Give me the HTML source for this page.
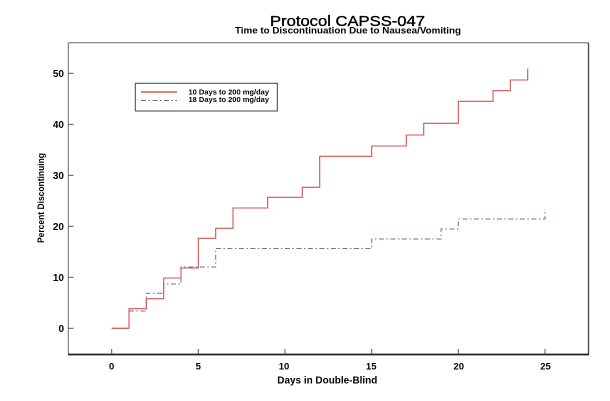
<!DOCTYPE html>
<html>
<head>
<meta charset="utf-8">
<style>
  html, body { margin: 0; padding: 0; background: #ffffff; }
  svg { display: block; }
  text { font-family: "Liberation Sans", Arial, sans-serif; fill: #000; }
</style>
</head>
<body>
<svg width="610" height="401" viewBox="0 0 610 401" xmlns="http://www.w3.org/2000/svg">
  <rect x="0" y="0" width="610" height="401" fill="#ffffff"/>

  <!-- Titles -->
  <text x="270" y="26" font-size="15" textLength="155" lengthAdjust="spacingAndGlyphs" stroke="#000" stroke-width="0.35">Protocol CAPSS-047</text>
  <text x="235" y="33.5" font-size="9.5" font-weight="bold" textLength="226" lengthAdjust="spacingAndGlyphs">Time to Discontinuation Due to Nausea/Vomiting</text>

  <!-- Frame -->
  <line x1="68.3" y1="42.7" x2="588.5" y2="42.7" stroke="#6a6a6a" stroke-width="1"/>
  <line x1="68.3" y1="42.7" x2="68.3" y2="354" stroke="#6a6a6a" stroke-width="1"/>
  <line x1="588.5" y1="42.7" x2="588.5" y2="354.5" stroke="#444" stroke-width="1.3"/>
  <line x1="68" y1="354.5" x2="589" y2="354.5" stroke="#222" stroke-width="1.8"/>

  <!-- Y ticks -->
  <g stroke="#555" stroke-width="1">
    <line x1="68.3" y1="328.3" x2="73.5" y2="328.3"/>
    <line x1="68.3" y1="277.3" x2="73.5" y2="277.3"/>
    <line x1="68.3" y1="226.3" x2="73.5" y2="226.3"/>
    <line x1="68.3" y1="175.3" x2="73.5" y2="175.3"/>
    <line x1="68.3" y1="124.3" x2="73.5" y2="124.3"/>
    <line x1="68.3" y1="73.3" x2="73.5" y2="73.3"/>
  </g>
  <g font-size="10" font-weight="bold" text-anchor="end">
    <text x="64" y="332">0</text>
    <text x="64" y="281">10</text>
    <text x="64" y="230">20</text>
    <text x="64" y="179">30</text>
    <text x="64" y="128">40</text>
    <text x="64" y="77">50</text>
  </g>

  <!-- X ticks -->
  <g stroke="#555" stroke-width="1">
    <line x1="111.7" y1="349" x2="111.7" y2="354"/>
    <line x1="198.3" y1="349" x2="198.3" y2="354"/>
    <line x1="285" y1="349" x2="285" y2="354"/>
    <line x1="371.7" y1="349" x2="371.7" y2="354"/>
    <line x1="458.3" y1="349" x2="458.3" y2="354"/>
    <line x1="545" y1="349" x2="545" y2="354"/>
  </g>
  <g font-size="9.5" font-weight="bold" text-anchor="middle">
    <text x="111.7" y="369.5">0</text>
    <text x="198.3" y="369.5">5</text>
    <text x="284" y="369.5">10</text>
    <text x="371.2" y="369.5">15</text>
    <text x="458.8" y="369.5">20</text>
    <text x="545.5" y="369.5">25</text>
  </g>

  <!-- Axis labels -->
  <text x="277.3" y="383.5" font-size="10" font-weight="bold" textLength="100" lengthAdjust="spacingAndGlyphs">Days in Double-Blind</text>
  <text transform="translate(44,243) rotate(-90)" x="0" y="0" font-size="9.5" font-weight="bold" textLength="90" lengthAdjust="spacingAndGlyphs">Percent Discontinuing</text>

  <!-- Legend -->
  <rect x="135.3" y="83.3" width="142" height="27.7" fill="#fff" stroke="#444" stroke-width="1"/>
  <line x1="141" y1="92" x2="177" y2="92" stroke="#c83a38" stroke-width="1.3"/>
  <line x1="141" y1="100.5" x2="177" y2="100.5" stroke="#5a6ea8" stroke-width="1" stroke-dasharray="5 2.5 1.5 2.5"/>
  <text x="188.5" y="94.5" font-size="7" font-weight="bold" textLength="80.5" lengthAdjust="spacingAndGlyphs">10 Days to 200 mg/day</text>
  <text x="188.5" y="101.8" font-size="7" font-weight="bold" textLength="80.5" lengthAdjust="spacingAndGlyphs">18 Days to 200 mg/day</text>

  <!-- Blue dash-dot series -->
  <polyline fill="none" stroke="#6375ab" stroke-width="1" stroke-dasharray="5 2.5 1.5 2.5"
    points="111.7,328.3 129,328.3 129,311 146.3,311 146.3,293.3 163.7,293.3 163.7,284 181,284 181,267 215.7,267 215.7,248.5 371.7,248.5 371.7,239 441,239 441,229 458.3,229 458.3,219 545,219 545,209.3"/>

  <!-- Red solid series -->
  <polyline fill="none" stroke="#d65550" stroke-width="1.1"
    points="111.7,328.3 129,328.3 129,308.7 146.3,308.7 146.3,298.7 163.7,298.7 163.7,278 181,278 181,268 198.3,268 198.3,238.3 215.7,238.3 215.7,228.3 233,228.3 233,208 267.7,208 267.7,197.3 302.3,197.3 302.3,187.3 319.7,187.3 319.7,156.3 371.7,156.3 371.7,146 406.3,146 406.3,135 423.7,135 423.7,123.3 458.3,123.3 458.3,101.3 493,101.3 493,90.7 510.3,90.7 510.3,80 527.7,80 527.7,68.5"/>
</svg>
</body>
</html>
